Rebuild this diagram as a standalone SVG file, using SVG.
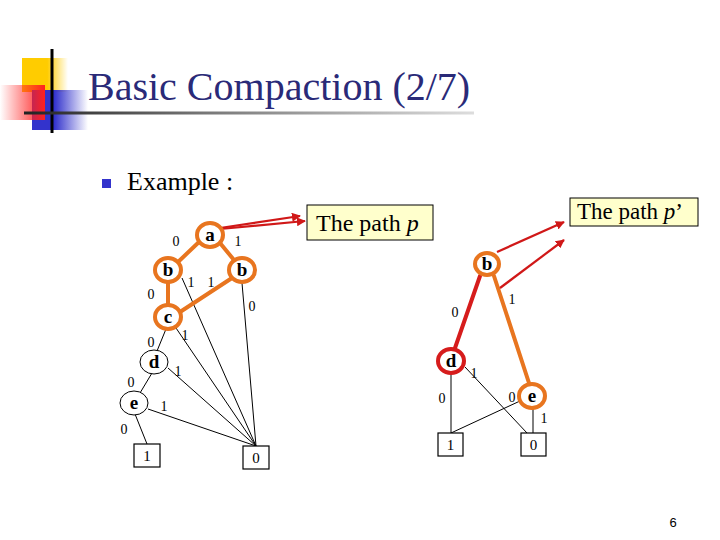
<svg xmlns="http://www.w3.org/2000/svg" width="720" height="540" viewBox="0 0 720 540">
<defs>
<linearGradient id="gy" x1="0" x2="1" y1="0" y2="0"><stop offset="0" stop-color="#ffcc00"/><stop offset="0.55" stop-color="#ffcc00"/><stop offset="1" stop-color="#ffcc00" stop-opacity="0"/></linearGradient>
<linearGradient id="gr" x1="0" x2="1" y1="0" y2="0"><stop offset="0" stop-color="#ff2020" stop-opacity="0"/><stop offset="1" stop-color="#ff2020"/></linearGradient>
<linearGradient id="gb" x1="0" x2="1" y1="0" y2="0"><stop offset="0" stop-color="#3333cc"/><stop offset="0.4" stop-color="#3333cc"/><stop offset="1" stop-color="#3333cc" stop-opacity="0"/></linearGradient>
<linearGradient id="gl" x1="0" x2="1" y1="0" y2="0"><stop offset="0" stop-color="#222222"/><stop offset="0.4" stop-color="#777777"/><stop offset="1" stop-color="#dddddd"/></linearGradient>
<marker id="ah" viewBox="0 0 10 10" refX="9" refY="5" markerWidth="9" markerHeight="9" markerUnits="userSpaceOnUse" orient="auto"><path d="M0,0 L10,5 L0,10 z" fill="#d01818"/></marker>
<style>
.lbl{font-family:"Liberation Serif","Times New Roman",serif;font-size:14px;fill:#000;text-anchor:middle}
.nt{font-family:"Liberation Serif","Times New Roman",serif;font-size:19px;font-weight:bold;fill:#000;text-anchor:middle}
.bt{font-family:"Liberation Serif","Times New Roman",serif;font-size:15px;fill:#000;text-anchor:middle}
.thin{stroke:#000;stroke-width:1;fill:none}
.ora{stroke:#e8751f;stroke-width:4;fill:none;stroke-linecap:round}
.redl{stroke:#d61c1c;stroke-width:4;fill:none;stroke-linecap:round}
.on{fill:#fff;stroke:#e8751f;stroke-width:4}
.rn{fill:#fff;stroke:#d61c1c;stroke-width:4}
.bn{fill:#fff;stroke:#000;stroke-width:1}
.box{fill:#fff;stroke:#000;stroke-width:1.2}
.arr{stroke:#d01818;stroke-width:2.2;fill:none;marker-end:url(#ah)}
.pbox{fill:#ffffcc;stroke:#000;stroke-width:1}
.pt{font-family:"Liberation Serif","Times New Roman",serif;fill:#000}
</style>
</defs>
<rect width="720" height="540" fill="#fff"/>
<g id="logo">
<rect x="22" y="58" width="46" height="34" fill="url(#gy)"/>
<rect x="32" y="90" width="56" height="40" fill="url(#gb)"/>
<rect x="0" y="85" width="45" height="35" fill="url(#gr)"/>
<line x1="52" y1="49" x2="52" y2="133" stroke="#000" stroke-width="3"/>
<rect x="24" y="111.5" width="450" height="3" fill="url(#gl)"/>
</g>
<text id="title" x="88" y="100" font-family="'Liberation Serif','Times New Roman',serif" font-size="40" fill="#2a2a78">Basic Compaction (2/7)</text>
<g id="bullet">
<rect x="102" y="179" width="9" height="9" fill="#3333cc"/>
<text x="127" y="190" font-family="'Liberation Serif','Times New Roman',serif" font-size="26" fill="#000">Example :</text>
</g>
<g id="connectors">
<line class="thin" x1="182" y1="278" x2="256" y2="446"/>
<line class="thin" x1="242" y1="283" x2="256" y2="446"/>
<line class="thin" x1="166" y1="329" x2="157" y2="351"/>
<line class="thin" x1="176" y1="328" x2="256" y2="446"/>
<line class="thin" x1="152" y1="373" x2="140" y2="393"/>
<line class="thin" x1="168" y1="368" x2="256" y2="446"/>
<line class="thin" x1="148" y1="409" x2="256" y2="446"/>
<line class="thin" x1="135" y1="414" x2="147" y2="444"/>
<line class="ora" x1="199" y1="242" x2="178" y2="262"/>
<line class="ora" x1="220" y1="243" x2="234" y2="260"/>
<line class="ora" x1="168" y1="283" x2="168" y2="305"/>
<line class="ora" x1="232" y1="278" x2="180" y2="312"/>
<line class="thin" x1="451" y1="374" x2="451" y2="433"/>
<line class="thin" x1="465" y1="367" x2="527" y2="433"/>
<line class="thin" x1="520" y1="401" x2="451" y2="433"/>
<line class="thin" x1="533" y1="409" x2="533" y2="433"/>
<line class="redl" x1="480" y1="276" x2="455" y2="348"/>
<line class="ora" x1="494" y1="276" x2="529" y2="383"/>
<line class="arr" x1="220" y1="228" x2="300" y2="216"/>
<line class="arr" x1="220" y1="229" x2="305" y2="221"/>
<line class="arr" x1="497" y1="252" x2="564" y2="222"/>
<line class="arr" x1="500" y1="288" x2="564" y2="240"/>
</g>
<g id="labels">
<text class="lbl" x="176" y="246">0</text>
<text class="lbl" x="238" y="246">1</text>
<text class="lbl" x="191" y="287">1</text>
<text class="lbl" x="211" y="287">1</text>
<text class="lbl" x="151" y="299">0</text>
<text class="lbl" x="252" y="311">0</text>
<text class="lbl" x="185" y="340">1</text>
<text class="lbl" x="151" y="347">0</text>
<text class="lbl" x="178" y="376">1</text>
<text class="lbl" x="131" y="387">0</text>
<text class="lbl" x="164" y="411">1</text>
<text class="lbl" x="124" y="434">0</text>
<text class="lbl" x="455" y="317">0</text>
<text class="lbl" x="512" y="304">1</text>
<text class="lbl" x="474" y="378">1</text>
<text class="lbl" x="442" y="403">0</text>
<text class="lbl" x="512" y="402">0</text>
<text class="lbl" x="544" y="423">1</text>
</g>
<g id="node-a"><ellipse class="on" cx="210" cy="235" rx="13" ry="12"/><text class="nt" x="210" y="241">a</text></g>
<g id="node-b1"><ellipse class="on" cx="168" cy="270" rx="13" ry="12"/><text class="nt" x="168" y="276">b</text></g>
<g id="node-b2"><ellipse class="on" cx="242" cy="270" rx="13" ry="12"/><text class="nt" x="242" y="276">b</text></g>
<g id="node-c"><ellipse class="on" cx="168" cy="317" rx="13" ry="12"/><text class="nt" x="168" y="323">c</text></g>
<g id="node-d"><ellipse class="bn" cx="154" cy="362" rx="14" ry="12"/><text class="nt" x="154" y="368">d</text></g>
<g id="node-e"><ellipse class="bn" cx="134" cy="403" rx="14" ry="12"/><text class="nt" x="134" y="409">e</text></g>
<g id="leaf-1"><rect class="box" x="134" y="444" width="26" height="23"/><text class="bt" x="147" y="461">1</text></g>
<g id="leaf-0"><rect class="box" x="243" y="446" width="26" height="23"/><text class="bt" x="256" y="463">0</text></g>
<g id="node-rb"><ellipse class="on" cx="487" cy="264" rx="12" ry="11"/><text class="nt" x="487" y="270">b</text></g>
<g id="node-rd"><ellipse class="rn" cx="451" cy="361" rx="13" ry="12"/><text class="nt" x="451" y="367">d</text></g>
<g id="node-re"><ellipse class="on" cx="532" cy="396" rx="13" ry="12"/><text class="nt" x="532" y="402">e</text></g>
<g id="rleaf-1"><rect class="box" x="438" y="433" width="25" height="23"/><text class="bt" x="450.5" y="450">1</text></g>
<g id="rleaf-0"><rect class="box" x="521" y="433" width="25" height="23"/><text class="bt" x="533.5" y="450">0</text></g>
<g id="path-p"><rect class="pbox" x="307" y="205" width="126" height="35"/><text class="pt" x="316" y="231" font-size="24">The path <tspan font-style="italic">p</tspan></text></g>
<g id="path-p2"><rect class="pbox" x="570" y="198" width="128" height="28"/><text class="pt" x="577" y="219" font-size="23">The path <tspan font-style="italic">p</tspan>’</text></g>
<text x="673" y="527" font-family="'Liberation Sans',Arial,sans-serif" font-size="13" fill="#000" text-anchor="middle">6</text>
</svg>
